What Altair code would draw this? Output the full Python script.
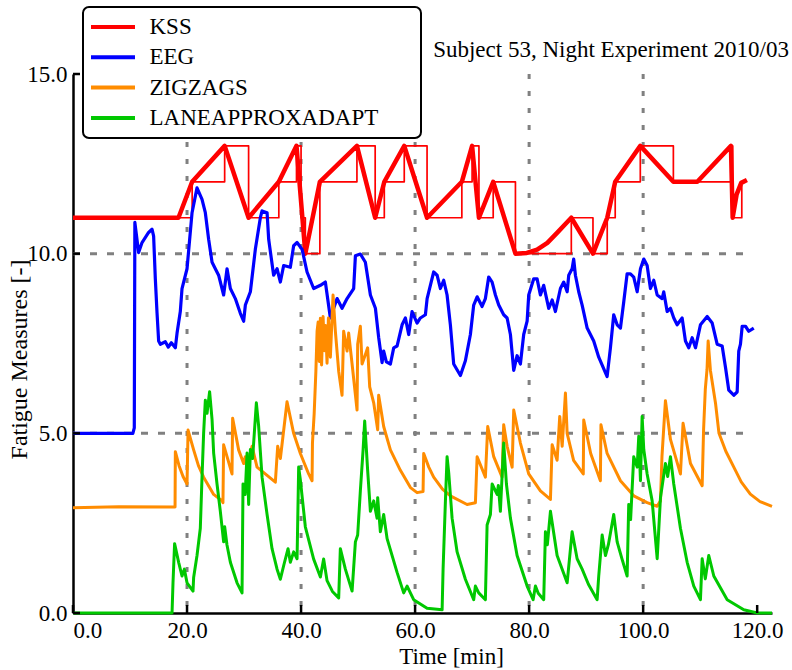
import altair as alt
import pandas as pd

FONT = "Liberation Serif"
SERIES = ["KSS", "EEG", "ZIGZAGS", "LANEAPPROXADAPT"]
COLORS = ["#ff0000", "#0000ff", "#ff8c00", "#00c800"]

# KSS self-reports (time [min], level): thin step line
kss_reports = [(0, 11), (18.5, 11), (20.9, 12), (26.6, 13), (30.8, 11), (36.1, 12), (39.2, 13),
               (40.0, 11), (40.75, 10), (43.3, 12), (49.8, 13), (53.0, 11), (54.6, 12), (58.1, 13),
               (62.1, 11), (68.2, 12), (70.0, 13), (71.2, 11), (73.7, 12), (77.6, 10), (87.4, 11),
               (91.2, 10), (93.7, 11), (95.1, 12), (99.5, 13), (105.3, 12), (109.5, 12), (115.4, 13),
               (115.7, 11), (117.3, 12)]

# KSS interpolated (thick line)
kss_line = [(0, 11), (18.5, 11), (20.9, 12), (26.6, 13), (30.8, 11), (36.1, 12), (39.2, 13),
            (40.75, 10), (43.3, 12), (49.8, 13), (53.0, 11), (54.6, 12), (58.1, 13), (62.1, 11),
            (68.2, 12), (70.0, 13), (71.2, 11), (73.7, 12), (77.6, 10), (79.6, 10.02), (81.4, 10.11),
            (83.2, 10.30), (84.9, 10.58), (87.4, 11), (91.2, 10), (93.7, 11), (95.1, 12), (99.5, 13),
            (105.3, 12), (109.5, 12), (115.4, 13), (115.7, 11), (116.4, 11.65), (117.2, 11.97),
            (118.2, 12.05)]

eeg = [(0, 5.0), (10.5, 5.0), (10.75, 5.15), (10.85, 10.87), (11.51, 10.03), (12.11, 10.31),
       (13.26, 10.59), (13.86, 10.68), (14.14, 10.49), (14.44, 9.30), (14.74, 8.35), (15.02, 7.57),
       (15.32, 7.48), (16.19, 7.55), (16.72, 7.40), (17.25, 7.52), (17.95, 7.38), (18.25, 7.79),
       (18.82, 8.39), (19.12, 9.03), (20.0, 9.58), (20.88, 11.14), (21.75, 11.83), (22.63, 11.51),
       (23.21, 11.14), (23.79, 10.40), (24.39, 9.76), (24.96, 9.58), (25.54, 9.40), (26.42, 8.85),
       (27.02, 9.58), (27.6, 9.03), (28.47, 8.75), (29.35, 8.34), (29.93, 8.12), (30.23, 8.57),
       (31.11, 8.94), (31.98, 10.12), (32.86, 11.0), (33.16, 11.19), (34.04, 11.14), (34.32, 10.40),
       (35.19, 9.40), (35.79, 9.58), (36.37, 9.21), (36.95, 9.67), (38.12, 9.62), (38.70, 10.22),
       (39.30, 10.31), (40.18, 10.12), (41.05, 9.49), (42.21, 9.03), (43.39, 9.12), (44.26, 9.21),
       (45.14, 8.21), (46.32, 8.75), (47.19, 8.48), (48.07, 8.75), (49.23, 9.03), (49.53, 9.94),
       (50.40, 9.99), (51.28, 9.76), (52.16, 8.85), (53.04, 8.48), (53.61, 7.67), (54.21, 6.97),
       (54.49, 7.29), (54.96, 6.99), (55.67, 6.93), (56.25, 7.38), (56.84, 7.43), (57.72, 8.02),
       (58.30, 8.21), (58.88, 7.75), (59.47, 8.39), (60.35, 8.07), (60.93, 8.21), (61.81, 8.30),
       (62.11, 8.75), (62.68, 9.12), (63.26, 9.49), (63.86, 9.40), (64.44, 9.03), (65.02, 9.26),
       (65.61, 8.85), (66.19, 8.02), (66.77, 6.93), (67.95, 6.61), (68.82, 7.02), (69.70, 7.75),
       (70.28, 8.57), (70.88, 8.80), (71.75, 8.53), (72.33, 8.75), (72.91, 9.35), (73.51, 9.21),
       (74.09, 8.85), (74.67, 8.57), (75.54, 8.30), (76.14, 8.21), (76.72, 7.75), (77.30, 6.75),
       (77.89, 7.16), (78.47, 6.93), (79.05, 7.75), (79.65, 8.12), (79.93, 8.85), (80.81, 9.30),
       (81.40, 9.30), (81.98, 8.85), (82.56, 9.12), (83.44, 8.48), (84.04, 8.71), (84.61, 8.39),
       (85.49, 9.03), (86.07, 9.21), (86.67, 8.94), (86.95, 9.40), (87.54, 9.58), (87.82, 9.85),
       (88.12, 9.40), (88.70, 8.94), (89.30, 8.57), (90.18, 7.93), (91.33, 7.57), (92.21, 7.12),
       (93.68, 6.58), (94.26, 7.38), (94.84, 8.30), (95.44, 8.02), (96.02, 7.93), (96.60, 8.66),
       (97.19, 9.44), (97.77, 9.44), (98.35, 9.35), (98.95, 8.94), (99.53, 9.58), (100.11, 9.85),
       (100.70, 9.67), (101.28, 9.03), (101.86, 9.26), (102.46, 8.85), (103.33, 8.75), (103.61, 8.94),
       (104.21, 8.39), (104.79, 8.48), (105.37, 8.21), (105.96, 8.02), (106.84, 8.21), (107.42, 7.57),
       (108.0, 7.38), (108.6, 7.66), (109.18, 7.38), (110.05, 8.02), (111.23, 8.25), (112.11, 8.07),
       (112.98, 7.48), (113.86, 7.43), (114.44, 6.84), (115.02, 6.20), (115.89, 6.06), (116.49, 6.15),
       (116.77, 7.29), (117.07, 7.48), (117.37, 7.98), (117.95, 7.98), (118.53, 7.84), (119.40, 7.93)]

zigzags = [(0, 2.93), (8.0, 2.96), (17.9, 2.95), (17.95, 4.49), (18.6, 4.1), (19.3, 3.8), (20.0, 3.59),
           (20.18, 5.09), (21.16, 4.54), (22.0, 4.1), (22.91, 3.78), (24.67, 3.30), (26.14, 3.12),
           (26.3, 3.07), (26.42, 4.68), (27.02, 4.35), (27.89, 3.87), (28.0, 5.42), (29.05, 4.54),
           (29.93, 4.16), (30.23, 4.35), (30.63, 4.1), (31.4, 4.64), (32.28, 4.06), (34.04, 3.83),
           (35.49, 3.64), (35.9, 4.64), (36.37, 4.30), (37.54, 5.88), (38.70, 5.0), (39.88, 4.44),
           (41.33, 3.87), (41.93, 3.68), (42.0, 4.73), (42.3, 5.55), (42.6, 6.73), (42.81, 7.84),
           (43.0, 8.1), (43.2, 7.0), (43.39, 8.2), (43.6, 6.9), (43.86, 8.25), (44.1, 7.3), (44.3, 8.0),
           (44.56, 6.95), (44.8, 8.21), (45.14, 7.12), (45.35, 7.9), (45.61, 8.85), (46.02, 7.84),
           (46.6, 6.73), (47.19, 6.06), (47.47, 7.84), (48.07, 7.29), (48.35, 7.79), (48.95, 6.93),
           (49.82, 5.65), (49.93, 7.48), (50.40, 7.98), (50.70, 6.93), (51.3, 7.2), (51.68, 7.38),
           (52.04, 6.29), (52.74, 5.85), (53.44, 5.10), (53.61, 6.06), (54.49, 5.19), (55.67, 4.54),
           (57.42, 3.97), (59.19, 3.49), (60.35, 3.35), (61.4, 3.38), (61.51, 4.44), (62.4, 4.06),
           (63.26, 3.78), (64.8, 3.45), (66.19, 3.26), (69.12, 3.02), (70.58, 3.07), (70.88, 4.35),
           (72.33, 3.78), (72.74, 5.19), (73.79, 4.35), (75.26, 3.78), (75.54, 5.24), (76.14, 4.64),
           (77.02, 4.06), (77.3, 5.65), (78.47, 4.73), (79.93, 3.87), (81.98, 3.40), (83.74, 3.16),
           (84.04, 4.68), (84.91, 4.25), (85.37, 5.47), (85.8, 4.64), (86.37, 6.12), (86.67, 5.0),
           (87.8, 4.25), (89.5, 3.87), (89.58, 5.37), (90.8, 4.44), (92.5, 3.68), (92.6, 5.24),
           (93.68, 4.44), (96.02, 3.68), (98.35, 3.26), (100.7, 3.07), (102.46, 2.97), (103.04, 3.12),
           (103.3, 4.35), (103.91, 5.91), (104.79, 4.83), (106.54, 3.87), (107.0, 5.28), (108.3, 4.16),
           (110.35, 3.54), (110.6, 5.10), (110.9, 6.22), (111.2, 6.77), (111.4, 7.57), (111.8, 6.75),
           (112.7, 5.83), (113.3, 5.0), (114.5, 4.5), (115.9, 4.06), (117.2, 3.65), (118.8, 3.31),
           (120.5, 3.1), (122.6, 2.97)]

laneapproxadapt = [(0, 0), (17.37, 0), (17.54, 0.84), (17.82, 1.93), (18.53, 1.41), (19.12, 1.03),
                   (19.53, 1.22), (20.0, 0.84), (21.05, 0.61), (21.16, 0.99), (21.75, 1.60), (22.33, 2.36),
                   (22.63, 3.78), (22.91, 5.0), (23.21, 5.92), (23.51, 5.56), (23.96, 6.16), (24.39, 5.38),
                   (24.67, 4.45), (25.26, 3.59), (25.84, 2.83), (26.42, 1.98), (26.6, 2.4), (27.0, 1.9),
                   (27.6, 1.41), (28.77, 0.84), (29.65, 0.56), (29.82, 3.59), (30.2, 3.3), (30.53, 4.45),
                   (30.81, 3.02), (31.11, 4.55), (31.5, 4.3), (32.16, 5.85), (32.56, 5.2), (33.16, 3.78),
                   (34.04, 2.74), (34.91, 1.79), (35.79, 1.22), (36.37, 0.94), (37.0, 1.35), (37.72, 1.79),
                   (38.12, 1.41), (38.70, 1.70), (39.30, 1.51), (39.58, 4.06), (39.88, 3.7), (40.75, 2.4),
                   (42.21, 1.5), (43.39, 1.0), (43.96, 1.5), (44.56, 0.9), (45.5, 0.6), (46.6, 0.42),
                   (46.89, 1.79), (47.77, 1.22), (48.95, 0.61), (49.53, 1.98), (49.93, 2.17), (50.4, 3.40),
                   (50.88, 4.54), (51.16, 5.34), (51.68, 3.97), (52.16, 2.83), (52.74, 3.12), (53.33, 2.64),
                   (53.44, 3.21), (53.91, 2.26), (54.49, 2.74), (55.09, 2.07), (56.84, 1.13), (58.0, 0.56),
                   (58.6, 0.75), (59.75, 0.37), (62.1, 0.13), (64.74, 0.09), (64.91, 1.22), (65.32, 3.12),
                   (65.61, 4.35), (65.9, 3.9), (66.49, 2.64), (67.37, 1.70), (68.82, 0.94), (70.28, 0.37),
                   (70.58, 0.75), (71.16, 0.56), (72.33, 0.37), (72.63, 2.45), (73.21, 2.74), (73.51, 3.59),
                   (74.39, 3.30), (74.6, 3.55), (74.96, 2.83), (75.54, 4.73), (76.02, 3.59), (76.72, 2.64),
                   (77.89, 1.60), (79.65, 0.75), (80.70, 0.37), (81.11, 0.75), (81.6, 0.55), (82.56, 0.37),
                   (82.86, 2.26), (83.2, 1.9), (83.74, 2.83), (84.91, 1.60), (86.67, 0.84), (87.54, 2.26),
                   (88.42, 1.51), (89.30, 1.22), (90.4, 0.8), (91.93, 0.37), (92.21, 1.03), (92.81, 2.17),
                   (93.39, 1.60), (93.9, 1.9), (94.84, 2.74), (95.44, 1.98), (96.3, 1.5), (97.19, 1.03),
                   (97.47, 3.02), (97.8, 2.6), (98.35, 4.35), (98.95, 4.06), (99.23, 4.92), (99.53, 3.68),
                   (99.82, 5.47), (100.11, 4.55), (100.70, 3.87), (101.58, 3.12), (102.46, 1.51),
                   (103.04, 3.21), (103.91, 4.16), (104.3, 3.8), (104.79, 4.35), (105.37, 3.59),
                   (106.54, 2.36), (107.72, 1.41), (108.88, 0.75), (110.05, 0.37), (110.35, 1.51),
                   (110.9, 0.95), (111.51, 1.60), (112.39, 1.03), (114.74, 0.37), (117.65, 0.09),
                   (120.0, 0.0), (122.6, 0.0)]

x_ticks = [0, 20, 40, 60, 80, 100, 120]
y_ticks = [0, 5, 10, 15]
x_grid = [20, 40, 60, 80, 100]
y_grid = [5, 10]
X_MAX = 122.6
Y_MAX = 15
GRID_X_END = 118.6

W, H = 699, 539


def frame(pairs, name):
    return pd.DataFrame({
        "t": [p[0] for p in pairs],
        "v": [p[1] for p in pairs],
        "series": name,
        "i": list(range(len(pairs))),
    })


xs = alt.Scale(domain=[0, X_MAX], nice=False, zero=False)
ys = alt.Scale(domain=[0, Y_MAX], nice=False, zero=False)

x_axis = alt.Axis(values=x_ticks, format=".1f", labelFlush=True, grid=False, ticks=False, tickSize=0,
                  domainColor="black", domainWidth=2.5, labelFont=FONT, labelFontSize=23,
                  labelColor="black", labelPadding=6, labelOverlap=False,
                  titleFont=FONT, titleFontSize=23, titleFontWeight="normal", titleColor="black",
                  titleX=378, titleY=50, titleBaseline="alphabetic", titleAlign="center")
y_axis = alt.Axis(values=y_ticks, format=".1f", grid=False, ticks=False, tickSize=0,
                  domainColor="black", domainWidth=2.5, labelFont=FONT, labelFontSize=23,
                  labelColor="black", labelPadding=6, labelOverlap=False,
                  titleFont=FONT, titleFontSize=24, titleFontWeight="normal", titleColor="black",
                  titleX=-47, titleY=285, titleAngle=270, titleBaseline="alphabetic",
                  titleAlign="center")

X = alt.X("t:Q", scale=xs, axis=x_axis, title="Time [min]")
Y = alt.Y("v:Q", scale=ys, axis=y_axis, title="Fatigue Measures [-]")

# trailing spacing keeps the legend frame as wide as in the reference
PAD = "\u00a0" * 6 + "\u200b"
legend = alt.Legend(orient="none", legendX=10, legendY=-67, direction="vertical",
                    symbolType="M-2.444,0H2.444", symbolSize=324, symbolStrokeWidth=4,
                    symbolOffset=10.5, labelOffset=25, labelFont=FONT, labelFontSize=23,
                    labelColor="black", labelLimit=600, rowPadding=6.3, padding=8, clipHeight=24,
                    strokeColor="black", fillColor="white", cornerRadius=6,
                    labelExpr="datum.label + '" + PAD + "'")
color = alt.Color("series:N", scale=alt.Scale(domain=SERIES, range=COLORS), legend=legend, title=None)

hgrid_df = pd.DataFrame({"v": y_grid, "t": [0] * len(y_grid), "t1": [GRID_X_END] * len(y_grid)})
vgrid_df = pd.DataFrame({"t": x_grid, "v": [Y_MAX] * len(x_grid), "v0": [0] * len(x_grid)})

hgrid = alt.Chart(hgrid_df).mark_rule(color="#808080", strokeWidth=3, strokeDash=[7, 10]).encode(
    x=X, x2="t1:Q", y=Y)
vgrid = alt.Chart(vgrid_df).mark_rule(color="#808080", strokeWidth=3, strokeDash=[5, 12]).encode(
    x=X, y=Y, y2="v0:Q")

xtick = alt.Chart(pd.DataFrame({"t": x_ticks})).mark_rule(color="black", strokeWidth=2.5).encode(
    x=X, y=alt.value(H), y2=alt.value(H - 8))
ytick = alt.Chart(pd.DataFrame({"v": y_ticks})).mark_rule(color="black", strokeWidth=2.5).encode(
    y=Y, x=alt.value(0), x2=alt.value(7))


def line(df, width, interp="linear"):
    return alt.Chart(df).mark_line(strokeWidth=width, interpolate=interp, strokeJoin="round").encode(
        x=X, y=Y, color=color, order="i:Q")


kss_thin = line(frame(kss_reports, "KSS"), 1.7, "step-after")
kss_thick = line(frame(kss_line, "KSS"), 4.5)
eeg_line = line(frame(eeg, "EEG"), 3.2)
zig_line = line(frame(zigzags, "ZIGZAGS"), 3)
lane_line = line(frame(laneapproxadapt, "LANEAPPROXADAPT"), 3)

chart = alt.layer(hgrid, vgrid, kss_thin, kss_thick, eeg_line, zig_line, lane_line, xtick, ytick).properties(
    width=W, height=H,
    autosize=alt.AutoSizeParams(type="none"),
    padding={"left": 73, "top": 74, "right": 20, "bottom": 57},
    title=alt.TitleParams(text="Subject 53, Night Experiment 2010/03", anchor="end", frame="group",
                          orient="top", font=FONT, fontSize=23, fontWeight="normal", color="black",
                          baseline="alphabetic", offset=-74, dx=17),
).configure_view(stroke=None).configure_legend(strokeWidth=2)

chart.save("out.html", embed_options={"renderer": "svg", "actions": False})
